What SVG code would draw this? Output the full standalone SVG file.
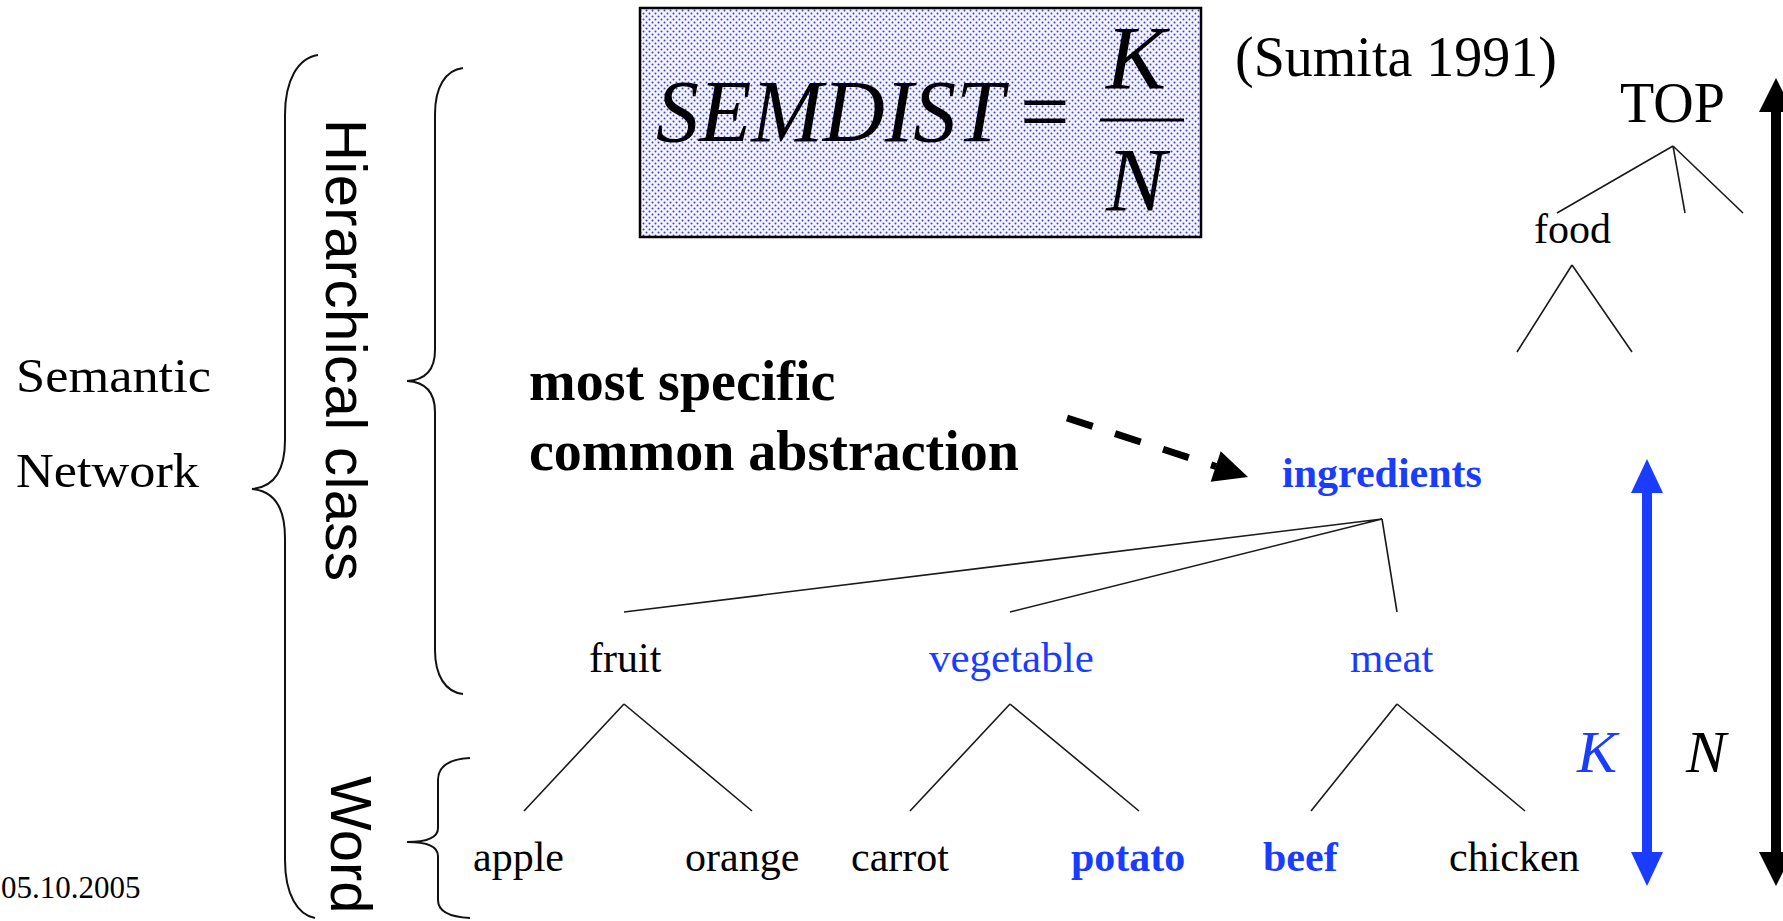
<svg xmlns="http://www.w3.org/2000/svg" width="1783" height="921" viewBox="0 0 1783 921">
<style>
.serif{font-family:"Liberation Serif","Times New Roman",serif;fill:#000}
.sans{font-family:"Liberation Sans",Arial,sans-serif;fill:#000}
.blue{fill:#1a3cff}
.b{font-weight:bold}
.it{font-style:italic}
.w{font-size:42px}
.edge{stroke:#1a1a1a;stroke-width:1.6;fill:none}
.brace{stroke:#111;stroke-width:2;fill:none}
</style>
<defs>
<pattern id="dots" width="6" height="6" patternUnits="userSpaceOnUse">
<rect width="6" height="6" fill="#f4f4ff"/>
<circle cx="1.5" cy="1.5" r="1" fill="#3c3ce0"/>
<circle cx="4.5" cy="4.5" r="1" fill="#3c3ce0"/>
</pattern>
</defs>
<rect width="1783" height="921" fill="#fff"/>

<g id="formula">
<rect x="640" y="8" width="561" height="229" fill="url(#dots)" stroke="#000" stroke-width="2.5"/>
<text class="serif it" x="656" y="141" font-size="88" textLength="348" lengthAdjust="spacingAndGlyphs">SEMDIST</text>
<text class="serif" x="1020" y="141" font-size="88">=</text>
<text class="serif it" x="1106" y="89" font-size="90">K</text>
<line x1="1100" y1="120" x2="1184" y2="120" stroke="#000" stroke-width="3"/>
<text class="serif it" x="1106" y="211" font-size="90">N</text>
</g>
<g id="citation"><text class="serif" x="1235" y="76" font-size="56">(Sumita 1991)</text></g>

<g id="semantic-network">
<text class="serif" x="16" y="392" font-size="49" textLength="195" lengthAdjust="spacingAndGlyphs">Semantic</text>
<text class="serif" x="16" y="487" font-size="49" textLength="183" lengthAdjust="spacingAndGlyphs">Network</text>
</g>
<g id="date"><text class="serif" x="1" y="898" font-size="31">05.10.2005</text></g>

<g id="braces">
<path class="brace" d="M318,55 C298,58 285,80 285,115 L285,440 C285,470 275,487 252,489 C275,491 285,508 285,538 L285,860 C285,895 298,915 315,918"/>
<path class="brace" d="M463,68 C445,70 435,88 435,114 L435,350 C435,370 425,380 407,381 C425,382 435,392 435,412 L435,650 C435,675 445,692 463,694"/>
<path class="brace" d="M470,758 C450,759 438,765 438,780 L438,828 C438,838 425,842 407,842 C425,842 438,846 438,856 L438,900 C438,912 450,917 470,918"/>
</g>
<g id="hierarchical-class"><text class="sans" transform="translate(326,119) rotate(90)" font-size="58" textLength="462">Hierarchical class</text></g>
<g id="word"><text class="sans" transform="translate(331,776) rotate(90)" font-size="58">Word</text></g>

<g id="annotation">
<text class="serif b" x="529" y="400" font-size="56">most specific</text>
<text class="serif b" x="529" y="470" font-size="56">common abstraction</text>
</g>

<g id="n-top"><text class="serif" x="1620" y="122" font-size="56">TOP</text></g>
<g id="n-food"><text class="serif w" x="1534" y="243">food</text></g>
<g id="n-ingredients"><text class="serif b blue w" x="1282" y="487">ingredients</text></g>
<g id="n-fruit"><text class="serif w" x="589" y="672">fruit</text></g>
<g id="n-vegetable"><text class="serif blue" x="929" y="672" font-size="43">vegetable</text></g>
<g id="n-meat"><text class="serif blue" x="1350" y="672" font-size="43">meat</text></g>
<g id="n-apple"><text class="serif w" x="473" y="871">apple</text></g>
<g id="n-orange"><text class="serif w" x="685" y="871">orange</text></g>
<g id="n-carrot"><text class="serif w" x="851" y="871">carrot</text></g>
<g id="n-potato"><text class="serif b blue w" x="1071" y="871">potato</text></g>
<g id="n-beef"><text class="serif b blue w" x="1263" y="871">beef</text></g>
<g id="n-chicken"><text class="serif w" x="1449" y="871">chicken</text></g>
<g id="k-label"><text class="serif it blue" x="1577" y="772" font-size="60">K</text></g>
<g id="n-label"><text class="serif it" x="1686" y="772" font-size="60">N</text></g>

<g id="connectors">
<path class="edge" d="M1673,146 L1557,213 M1673,146 L1685,213 M1673,146 L1743,213"/>
<path class="edge" d="M1572,265 L1517,352 M1572,265 L1632,352"/>
<path class="edge" d="M1382,519 L624,612 M1382,519 L1010,612 M1382,519 L1397,612"/>
<path class="edge" d="M624,704 L524,811 M624,704 L752,811"/>
<path class="edge" d="M1010,704 L910,811 M1010,704 L1139,811"/>
<path class="edge" d="M1397,704 L1311,811 M1397,704 L1525,811"/>
<line x1="1067" y1="418" x2="1216" y2="466.5" stroke="#000" stroke-width="7" stroke-dasharray="27 23.5"/>
<polygon points="1248,477 1220.7,451.3 1210.7,481.7" fill="#000"/>
<line x1="1647" y1="490" x2="1647" y2="856" stroke="#1a3cff" stroke-width="10"/>
<polygon points="1647,459 1663,493 1631,493" fill="#1a3cff"/>
<polygon points="1647,886 1663,852 1631,852" fill="#1a3cff"/>
<line x1="1776" y1="108" x2="1776" y2="856" stroke="#000" stroke-width="10"/>
<polygon points="1776,78 1793,112 1759,112" fill="#000"/>
<polygon points="1776,886 1793,852 1759,852" fill="#000"/>
</g>
</svg>
